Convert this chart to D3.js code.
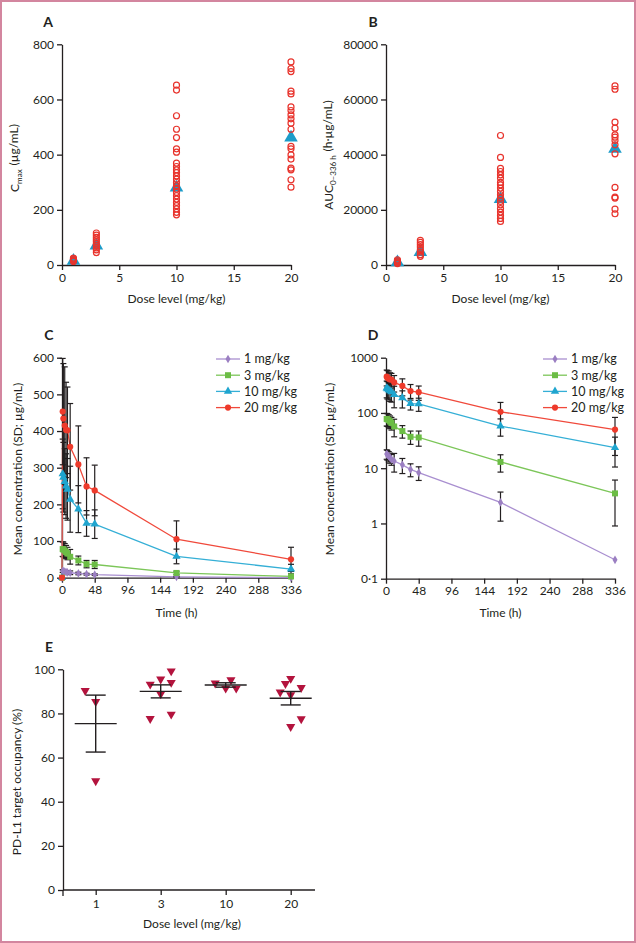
<!DOCTYPE html>
<html><head><meta charset="utf-8">
<script src="https://cdn.jsdelivr.net/npm/d3@7"></script>
<style>body{margin:0;background:#fff} text{font-family:Lato, "Open Sans", sans-serif; fill:#231f20}</style>
</head><body><svg id="c" width="636" height="943"></svg>
<script>
// ---------- DATA ----------
const doseLevels = [1, 3, 10, 20];
// Panel A: Cmax individual values (µg/mL)
const cmaxDose1 = [13, 16, 19, 22, 25];
const cmaxDose3 = [45, 55, 62, 70, 77, 85, 92, 100, 108, 116];
const cmaxDose10 = [652, 634, 541, 492, 462, 421, 409, 369, 357, 345, 335, 323, 311, 299, 287, 275, 263, 251, 239, 227, 215, 203, 191, 182];
const cmaxDose20 = [736, 712, 701, 630, 620, 573, 560, 544, 530, 514, 492, 430, 421, 399, 384, 351, 345, 309, 282];
const cmaxMean = [15, 70, 281, 462];
// Panel B: AUC0-336h individual values (h·µg/mL)
const aucDose1 = [500, 800, 1100, 1500, 1900];
const aucDose3 = [8930, 8200, 7360, 6500, 5550, 4700, 3740, 3140];
const aucDose10 = [46940, 38980, 35000, 33900, 32700, 31500, 29930, 29080, 27880, 26670, 25460, 24250, 23050, 21840, 20400, 19190, 17980, 16890, 15810];
const aucDose20 = [64920, 63710, 51770, 49600, 47180, 46340, 45130, 43560, 40300, 28120, 24620, 24250, 20270, 18580];
const aucMean = [1000, 4700, 23900, 42100];
// Panels C/D: mean concentration (SD) over time
const timePoints = [0, 1, 2, 4, 6, 8, 12, 24, 36, 48, 168, 336];
const timeTicks = [0, 48, 96, 144, 192, 240, 288, 336];
const seriesNames = ["1 mg/kg", "3 mg/kg", "10 mg/kg", "20 mg/kg"];
const mean1 = [0, 18, 17.5, 16.5, 15.5, 14.5, 13.5, 11.5, 9.5, 8.3, 2.4, 0.22];
const sd1 = [0, 3.5, 3.5, 3.5, 3.2, 3.2, 5, 3.5, 2.5, 2.3, 1.3, 0];
const mean3 = [0, 78, 77, 74, 70, 66, 57, 47, 37, 36, 13, 3.5];
const sd3 = [0, 20, 20, 19, 18, 17, 20, 12, 10, 11, 4.5, 2.6];
const mean10 = [0, 283, 274, 262, 250, 241, 214, 187, 148, 146, 58, 23.5];
const sd10 = [0, 95, 95, 90, 88, 84, 90, 64, 35, 39, 20, 13];
const mean20 = [0, 453, 434, 415, 403, 402, 357, 309, 249, 238, 105, 50];
const sd20 = [0, 145, 150, 160, 130, 118, 118, 105, 78, 69, 50, 33];
const linTicks = [0, 100, 200, 300, 400, 500, 600];
const logTicks = [0.1, 1, 10, 100, 1000];
const logTickLabels = ["0·1", "1", "10", "100", "1000"];
// Panel E: PD-L1 target occupancy (%)
const occDose1 = [90.3, 85.3, 49.4];
const occDose3 = [93.2, 95.5, 99.2, 94, 88.8, 77.6, 79.6];
const occDose10 = [93.7, 95.2, 91.4, 91.4];
const occDose20 = [93.5, 95.8, 91.7, 89.6, 88.4, 77.5, 74];
const occJit1 = [-1, 0, 0];
const occJit3 = [-1, 0, 1, 1, 0, -1, 1];
const occJit10 = [-1, 0.5, 0, 1];
const occJit20 = [-0.5, 0, 1, -1, 0, 1, 0];
const occMean = [75.4, 90.0, 92.9, 86.9];
const occSem = [12.9, 2.95, 1.0, 3.05];

// ---------- DRAW ----------
const svg = d3.select("#c");
svg.append("rect").attr("x",1).attr("y",1).attr("width",634).attr("height",941)
  .attr("fill","#fff").attr("stroke","#d3869f").attr("stroke-width",2);

const FS = 12;
function styleAxis(g){
  g.selectAll(".domain").attr("stroke","#231f20").attr("stroke-width",1.3);
  g.selectAll(".tick line").attr("stroke","#231f20").attr("stroke-width",1.3);
  g.selectAll(".tick text").style("font-size",FS+"px").style("font-family","Lato, sans-serif").attr("fill","#231f20");
}
function panelLabel(t,x,y){
  svg.append("text").attr("x",x).attr("y",y).attr("text-anchor","middle")
    .style("font-size","14px").style("font-weight","bold").text(t);
}
function xTitle(t,x,y){
  svg.append("text").attr("x",x).attr("y",y).attr("text-anchor","middle").style("font-size",FS+"px").text(t);
}
function yTitle(parts,x,y){
  const t = svg.append("text").attr("transform",`translate(${x},${y}) rotate(-90)`)
    .attr("text-anchor","middle").attr("dy","0.35em").style("font-size",FS+"px");
  parts.forEach(p=>{
    if(p.sub){
      t.append("tspan").attr("dy","0.3em").style("font-size","8px").text(p.t);
      t.append("tspan").attr("dy","-0.3em").text("\u200A");
    } else t.append("tspan").text(p.t);
  });
}

const red = "#e8332c", blue = "#1d9cc9";

// Scatter panels A & B
function scatterPanel(x0,x1,yMax,yTicksV,groups,means,label,lx,titleParts,tx){
  const x = d3.scaleLinear([0,20],[x0,x1]);
  const y = d3.scaleLinear([0,yMax],[265,44.3]);
  const gx = svg.append("g").attr("transform","translate(0,265)")
    .call(d3.axisBottom(x).tickValues([0,5,10,15,20]).tickSize(5).tickPadding(3).tickSizeOuter(0));
  styleAxis(gx);
  const gy = svg.append("g").attr("transform",`translate(${x0},0)`)
    .call(d3.axisLeft(y).tickValues(yTicksV).tickFormat(d3.format("d")).tickSize(5).tickPadding(3).tickSizeOuter(0));
  styleAxis(gy);
  // means
  svg.append("g").selectAll("path").data(means).join("path")
    .attr("transform",(d,i)=>`translate(${x(doseLevels[i])},${y(d)})`)
    .attr("d",d3.symbol(d3.symbolTriangle,80)).attr("fill",blue);
  groups.forEach((arr,i)=>{
    svg.append("g").selectAll("circle").data(arr).join("circle")
      .attr("cx",x(doseLevels[i])).attr("cy",d=>y(d)).attr("r",3)
      .attr("fill","none").attr("stroke",red).attr("stroke-width",1.2);
  });
  panelLabel(label,lx,27);
  xTitle("Dose level (mg/kg)",(x0+x1)/2,303);
  yTitle(titleParts,tx[0],tx[1]);
}

scatterPanel(62,291,800,[0,200,400,600,800],[cmaxDose1,cmaxDose3,cmaxDose10,cmaxDose20],cmaxMean,"A",48,
  [{t:"C"},{t:"max",sub:true},{t:" (µg/mL)"}],[15,158]);
scatterPanel(386,615,80000,[0,20000,40000,60000,80000],[aucDose1,aucDose3,aucDose10,aucDose20],aucMean,"B",373,
  [{t:"AUC"},{t:"0–336 h",sub:true},{t:" (h·µg/mL)"}],[329,155]);

// PK panels C & D
const seriesMeans = [mean1,mean3,mean10,mean20];
const seriesSds = [sd1,sd3,sd10,sd20];
const seriesColors = ["#9b7fc2","#6cbd45","#1fa5cf","#ee3a2b"];
const lineColors = ["#a98fd0","#7cc659","#35afd6","#f0493b"];
const seriesSymbols = [d3.symbolDiamond, d3.symbolSquare, d3.symbolTriangle, d3.symbolCircle];
const symbolSizes = [22, 36, 30, 30];

function pkPanel(x0,x1,log,label,lx,tx,legX){
  const x = d3.scaleLinear([0,336],[x0,x1]);
  const y = log ? d3.scaleLog([0.1,1000],[578.7,357.7]) : d3.scaleLinear([0,600],[577.7,357.7]);
  const yBase = log ? 578.7 : 577.7;
  const gx = svg.append("g").attr("transform",`translate(0,${yBase})`)
    .call(d3.axisBottom(x).tickValues(timeTicks).tickSize(5).tickPadding(3).tickSizeOuter(0));
  styleAxis(gx);
  const ay = d3.axisLeft(y).tickSize(5).tickPadding(3).tickSizeOuter(0);
  if(log) ay.tickValues(logTicks).tickFormat((d,i)=>logTickLabels[i]);
  else ay.tickValues(linTicks);
  const gy = svg.append("g").attr("transform",`translate(${x0},0)`).call(ay);
  styleAxis(gy);
  const ok = v => log ? v>0 : true;
  seriesMeans.forEach((m,si)=>{
    const pts = timePoints.map((t,i)=>({t,v:m[i],sd:seriesSds[si][i]})).filter(p=>ok(p.v));
    svg.append("path").datum(pts).attr("fill","none").attr("stroke",lineColors[si]).attr("stroke-width",1.3)
      .attr("d",d3.line().x(p=>x(p.t)).y(p=>y(p.v)));
    const eb = svg.append("g").attr("stroke","#231f20").attr("stroke-width",1.2);
    pts.filter(p=>p.sd>0).forEach(p=>{
      const hi = y(p.v+p.sd);
      const lov = p.v-p.sd;
      const lo = log ? (lov>0.1 ? y(lov) : yBase) : y(Math.max(0,lov));
      const cx = x(p.t);
      eb.append("line").attr("x1",cx).attr("x2",cx).attr("y1",hi).attr("y2",lo);
      eb.append("line").attr("x1",cx-3).attr("x2",cx+3).attr("y1",hi).attr("y2",hi);
      if(!log || lov>0.1) eb.append("line").attr("x1",cx-3).attr("x2",cx+3).attr("y1",lo).attr("y2",lo);
    });
  });
  seriesMeans.forEach((m,si)=>{
    const pts = timePoints.map((t,i)=>({t,v:m[i]})).filter(p=>ok(p.v));
    svg.append("g").selectAll("path").data(pts).join("path")
      .attr("transform",p=>`translate(${x(p.t)},${y(p.v)})`)
      .attr("d",d3.symbol(seriesSymbols[si],symbolSizes[si])).attr("fill",seriesColors[si]);
  });
  // legend
  const lg = svg.append("g");
  seriesNames.forEach((n,i)=>{
    const yy = 359 + i*16.2;
    lg.append("line").attr("x1",legX).attr("x2",legX+24).attr("y1",yy).attr("y2",yy)
      .attr("stroke",lineColors[i]).attr("stroke-width",1.3);
    lg.append("path").attr("transform",`translate(${legX+12},${yy})`)
      .attr("d",d3.symbol(seriesSymbols[i],symbolSizes[i])).attr("fill",seriesColors[i]);
    lg.append("text").attr("x",legX+28).attr("y",yy).attr("dy","0.35em").style("font-size","12.5px").text(n);
  });
  panelLabel(label,lx,340);
  xTitle("Time (h)",(x0+x1)/2,617);
  yTitle([{t:"Mean concentration (SD; µg/mL)"}],tx,469);
}
pkPanel(62,291,false,"C",49,18,216);
pkPanel(386,615,true,"D",373,330,543);

// Panel E
(function(){
  const cats = doseLevels.map(String);
  const x = d3.scalePoint(cats,[95.7,290.7]);
  const y = d3.scaleLinear([0,100],[890,669.3]);
  const gx = svg.append("g").attr("transform","translate(0,890)")
    .call(d3.axisBottom(x).tickSize(5).tickPadding(4).tickSizeOuter(0));
  gx.select(".domain").remove();
  styleAxis(gx);
  svg.append("line").attr("x1",63).attr("x2",315).attr("y1",890).attr("y2",890).attr("stroke","#231f20").attr("stroke-width",1.3);
  svg.append("line").attr("x1",63).attr("x2",63).attr("y1",890).attr("y2",896).attr("stroke","#231f20").attr("stroke-width",1.3);
  const gy = svg.append("g").attr("transform","translate(63,0)")
    .call(d3.axisLeft(y).tickValues([0,20,40,60,80,100]).tickSize(5).tickPadding(3).tickSizeOuter(0));
  styleAxis(gy);
  const groups = [occDose1,occDose3,occDose10,occDose20];
  const jits = [occJit1,occJit3,occJit10,occJit20];
  groups.forEach((arr,gi)=>{
    svg.append("g").selectAll("path").data(arr).join("path")
      .attr("d",d3.symbol(d3.symbolTriangle,36)).attr("fill","#b3133d")
      .attr("transform",(d,i)=>`translate(${x(cats[gi])+jits[gi][i]*10.5},${y(d)}) rotate(180)`);
  });
  const mg = svg.append("g").attr("stroke","#231f20").attr("stroke-width",1.4);
  occMean.forEach((m,i)=>{
    const cx = x(cats[i]);
    mg.append("line").attr("x1",cx-21).attr("x2",cx+21).attr("y1",y(m)).attr("y2",y(m));
    mg.append("line").attr("x1",cx).attr("x2",cx).attr("y1",y(m+occSem[i])).attr("y2",y(m-occSem[i]));
    [m+occSem[i], m-occSem[i]].forEach(v=>mg.append("line").attr("x1",cx-10).attr("x2",cx+10).attr("y1",y(v)).attr("y2",y(v)));
  });
  panelLabel("E",49,652);
  xTitle("Dose level (mg/kg)",192,928);
  yTitle([{t:"PD-L1 target occupancy (%)"}],17,782);
})();
</script></body></html>
